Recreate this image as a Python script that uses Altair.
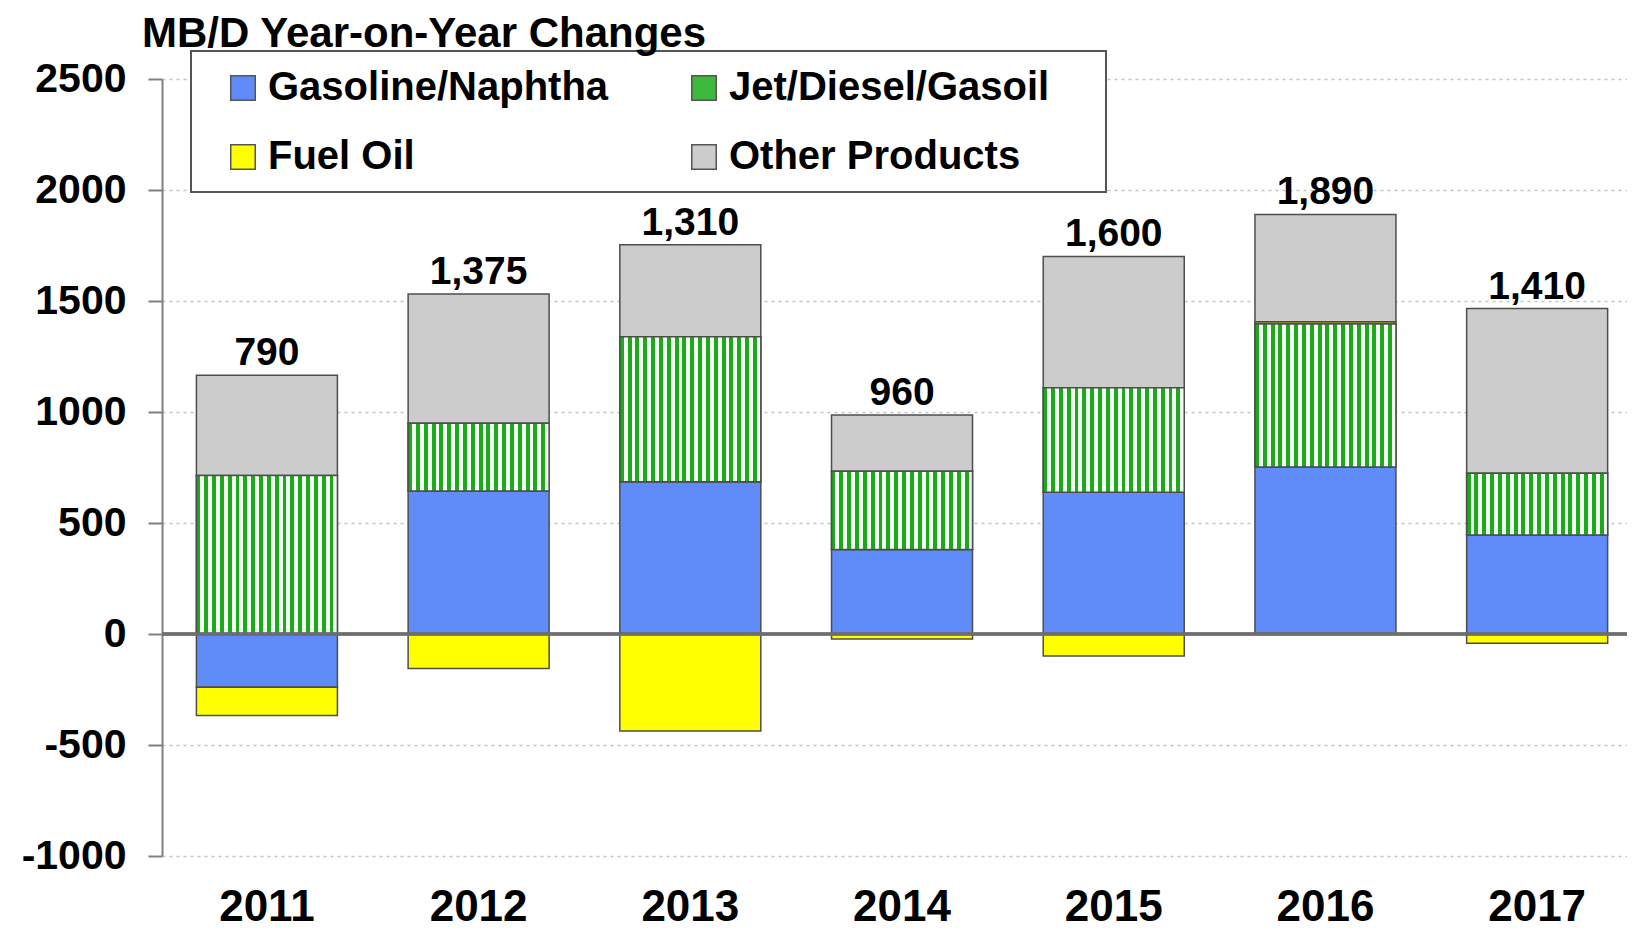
import altair as alt
import pandas as pd

# ---------------- data ----------------
YEARS = ["2011", "2012", "2013", "2014", "2015", "2016", "2017"]
PRODUCTS = ["Gasoline/Naphtha", "Jet/Diesel/Gasoil", "Fuel Oil", "Other Products"]
GASOLINE = [-240, 644, 686, 381, 639, 752, 446]
JET = [714, 305, 653, 352, 470, 644, 278]
FUEL_OIL = [-127, -155, -437, -23, -99, 10, -42]
OTHER = [451, 583, 414, 254, 592, 484, 742]
TOTAL_LABELS = ["790", "1,375", "1,310", "960", "1,600", "1,890", "1,410"]
Y_TICKS = [-1000, -500, 0, 500, 1000, 1500, 2000, 2500]
TITLE = "MB/D Year-on-Year Changes"

COLORS = ["#5f8cf8", "#3cb83c", "#ffff00", "#cccccc"]
FONT = "Liberation Sans"

series = [GASOLINE, JET, FUEL_OIL, OTHER]
rows = []
for pi, (prod, vals) in enumerate(zip(PRODUCTS, series)):
    for y, v in zip(YEARS, vals):
        rows.append({"year": y, "product": prod, "value": v, "order": pi})
df = pd.DataFrame(rows)

tops = []
for i, y in enumerate(YEARS):
    tops.append(sum(max(s[i], 0) for s in series))
df_labels = pd.DataFrame({"year": YEARS, "label": TOTAL_LABELS, "top": tops})

# striped fill for Jet/Diesel/Gasoil
n_stripes = 18
stops = []
for k in range(n_stripes):
    a = k / n_stripes
    m = (k + 0.5) / n_stripes
    b = (k + 1) / n_stripes
    stops += [
        {"offset": a, "color": "#1ea81e"},
        {"offset": m, "color": "#1ea81e"},
        {"offset": m, "color": "#f4fff4"},
        {"offset": b, "color": "#f4fff4"},
    ]
STRIPES = {"gradient": "linear", "x1": 0, "y1": 0, "x2": 1, "y2": 0, "stops": stops}

# ---------------- encodings ----------------
x_enc = alt.X(
    "year:N",
    sort=YEARS,
    scale=alt.Scale(paddingInner=0.334, paddingOuter=0.127, align=0.64),
    axis=alt.Axis(
        title=None, labelAngle=0, domain=False, ticks=False, grid=False,
        labelFont=FONT, labelFontSize=44, labelFontWeight="bold",
        labelColor="black", labelPadding=29,
    ),
)

y_scale = alt.Scale(domain=[-1000, 2500], nice=False, zero=False)
y_axis = alt.Axis(
    title=None, values=Y_TICKS, labelExpr="'' + datum.value",
    labelFont=FONT, labelFontSize=41, labelFontWeight="bold", labelColor="black",
    labelPadding=22, tickSize=14, tickColor="#808080", tickWidth=2,
    domainColor="#808080", domainWidth=2,
    gridColor="#c4c4c4", gridDash=[3, 4], gridWidth=1.5,
)

base = alt.Chart(df).transform_stack(
    stack="value", groupby=["year"], as_=["y0", "y1"],
    sort=[alt.SortField("order", order="ascending")],
)

bars = base.mark_bar(stroke="#4d4d4d", strokeWidth=1.5).encode(
    x=x_enc,
    y=alt.Y("y0:Q", scale=y_scale, axis=y_axis),
    y2="y1:Q",
    color=alt.Color(
        "product:N",
        scale=alt.Scale(domain=PRODUCTS, range=COLORS),
        legend=alt.Legend(
            title=None, orient="none", legendX=61, legendY=-11, columns=2,
            direction="horizontal",
            symbolType="square", symbolSize=600, symbolStrokeColor="#555555",
            symbolStrokeWidth=1.5, labelFont=FONT, labelFontSize=40,
            labelFontWeight="bold", labelColor="black", labelOffset=5,
            columnPadding=75, rowPadding=29, padding=0, labelLimit=0,
        ),
    ),
)

jet = base.transform_filter(alt.datum.product == PRODUCTS[1]).mark_bar(
    fill=STRIPES, stroke="#4d4d4d", strokeWidth=1.5
).encode(
    x=x_enc,
    y=alt.Y("y0:Q", scale=y_scale, axis=y_axis),
    y2="y1:Q",
)

zero_rule = alt.Chart(df_labels).mark_rule(color="#6e6e6e", strokeWidth=2.5).encode(
    y=alt.datum(0)
)

labels = alt.Chart(df_labels).mark_text(
    font=FONT, fontSize=39, fontWeight="bold", color="black",
    baseline="alphabetic", dy=-10,
).encode(
    x=x_enc,
    y=alt.Y("top:Q", scale=y_scale, axis=y_axis),
    text="label:N",
)

frame = alt.Chart(pd.DataFrame({"a": [0]})).mark_rect(
    fill="white", stroke="#555555", strokeWidth=2
).encode(
    x=alt.value(29), x2=alt.value(944), y=alt.value(-28), y2=alt.value(113)
)

title = alt.Chart(pd.DataFrame({"t": [TITLE]})).mark_text(
    font=FONT, fontSize=42, fontWeight="bold", color="black",
    align="left", baseline="alphabetic",
).encode(x=alt.value(-20), y=alt.value(-32), text="t:N")

chart = alt.layer(frame, bars, jet, zero_rule, labels, title).properties(
    width=1465,
    height=777,
    padding={"left": 154, "top": 71, "right": 0, "bottom": 73},
    autosize=alt.AutoSizeParams(type="none"),
    background="white",
).configure_view(stroke=None)

chart.save("out.html", embed_options={"renderer": "svg", "actions": False})
